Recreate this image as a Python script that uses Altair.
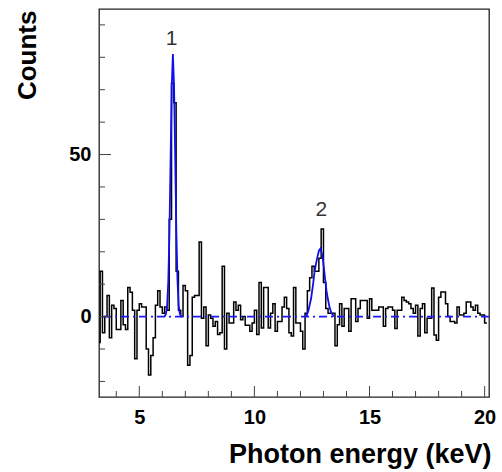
import altair as alt
import numpy as np
import pandas as pd

# Histogram: bin left edges start at 3.2 keV, width 0.1 keV
bin_start = 3.2
bin_width = 0.1
counts = [
    -8, 14, -5, 0, 6.5, -6.5, 3.5, 2.5, -4, -4,          # 3.2 - 4.1
    5, -2.5, -4, 9, 7.5, 2, -13, 2, 4, 3,                 # 4.2 - 5.1
    3, -10, -18, -12, -6.5, 3.5, 8, 3, 1, 3,              # 5.2 - 6.1
    2, 30, 72, 66, 14, 2, 0, 9.6, 8, -15,                 # 6.2 - 7.1
    -12, 6, 6.5, 6.5, 23, -0.5, 3, -9, 0.5, -0.5,         # 7.2 - 8.1
    -3, -1.5, -5.5, -5, 15.5, -10, 1, -2, -2, 4.5,        # 8.2 - 9.1
    2, 3.5, -1, 0, -2.7, -2.7, -4.5, -2, 2, -5.5,         # 9.2 - 10.1
    10.5, -3.5, 9, 9, -3.5, 1, 4, -4.5, -1.5, -1.5,       # 10.2 - 11.1
    3, 6, 2.5, -5, -6, 9, -2, -2, -4.5, -10,              # 11.2 - 12.1
    1, 8, 12, 15.5, 14, 14, 18, 27, 10.5, 2.5,            # 12.2 - 13.1
    1, 1, 1, -9, -2.5, 4, -3, 2.5, 2.5, -4.5,             # 13.2 - 14.1
    5.5, 5.5, -1.5, 2.5, 5, 5, 5, -0.5, 5.5, 2,           # 14.2 - 15.1
    2, 2, 3, 3, -3, 2.5, 3, 3, 2, -3.7,                   # 15.2 - 16.1
    2, 2, 6, 5, 4.5, 4, 2.5, 1, 3.5, -6,                  # 16.2 - 17.1
    2.5, 4, -5, -0.5, -0.5, 8.8, -5.7, -7.3, 6, 7.6,      # 17.2 - 18.1
    7.6, 4, 0, -1.5, -1.5, -2, 3, 0.5, 0.5, 1,            # 18.2 - 19.1
    4.5, 4.5, 3, 2, 3.5, 1, 0.5, 0.5, -2,                 # 19.2 - 20.0
]

# Fitted peak curves
fit1_e = [6.10, 6.16, 6.21, 6.26, 6.31, 6.36, 6.41, 6.46, 6.51, 6.56, 6.61, 6.66, 6.71, 6.76, 6.82]
fit1_c = [0, 0.9, 3.5, 11, 26, 49, 71, 81, 71, 49, 26, 11, 3.5, 0.9, 0]
fit2_e = [12.25, 12.35, 12.46, 12.55, 12.61, 12.68, 12.75, 12.81, 12.87, 12.93,
          12.97, 13.02, 13.07, 13.13, 13.19, 13.26, 13.33, 13.45]
fit2_c = [0, 2, 5.5, 10, 13.7, 16.5, 18.8, 20.5, 21, 19.5, 18, 15, 11.7, 8, 5.5, 3, 1.4, 0]

peak_labels = ["1", "2"]
peak_label_e = [6.40, 12.91]
peak_label_c = [85.5, 32.8]

x_major = [5, 10, 15, 20]
x_minor = [4, 6, 7, 8, 9, 11, 12, 13, 14, 16, 17, 18, 19]
y_major = [0, 50]
y_minor = [-20, -10, 10, 20, 30, 40, 60, 70, 80, 90]

X_DOMAIN = [3.25, 20.19]
Y_DOMAIN = [-24.8, 94.9]
W, H = 390, 388
FONT = "Liberation Sans"

edges = list(np.round(bin_start + bin_width * np.arange(len(counts) + 1), 3))
hist_df = pd.DataFrame({"e": edges, "c": counts + [counts[-1]]})
fit_df = pd.DataFrame({
    "e": fit1_e + fit2_e,
    "c": fit1_c + fit2_c,
    "peak": ["1"] * len(fit1_e) + ["2"] * len(fit2_e),
})
lab_df = pd.DataFrame({"t": peak_labels, "e": peak_label_e, "c": peak_label_c})

xs = alt.Scale(domain=X_DOMAIN, nice=False, zero=False)
ys = alt.Scale(domain=Y_DOMAIN, nice=False, zero=False)

x_axis = alt.Axis(
    values=x_major, tickSize=0, domain=False, grid=False,
    labelFont=FONT, labelFontSize=20, labelFontWeight="bold", labelColor="black",
    labelPadding=10, labelBaseline="top",
    title="Photon energy (keV)", titleFont=FONT, titleFontSize=27,
    titleFontWeight="bold", titleColor="black",
    titleAlign="right", titleAnchor="end", titleBaseline="alphabetic",
    titleX=W + 2, titleY=65,
)
y_axis = alt.Axis(
    values=y_major, tickSize=0, domain=False, grid=False,
    labelFont=FONT, labelFontSize=20, labelFontWeight="bold", labelColor="black",
    labelPadding=8,
    title="Counts", titleFont=FONT, titleFontSize=26, titleFontWeight="bold",
    titleColor="black", titleAngle=270, titleAlign="right", titleBaseline="middle",
    titleX=-72, titleY=1,
)

hist = alt.Chart(hist_df).mark_line(
    interpolate="step-after", color="black", strokeWidth=1.5, clip=True
).encode(
    x=alt.X("e:Q", scale=xs, axis=x_axis),
    y=alt.Y("c:Q", scale=ys, axis=y_axis),
)

zero_line = alt.Chart(pd.DataFrame({"c": [0]})).mark_rule(
    color="#1a1aff", strokeWidth=1.6, strokeDash=[8, 4, 2, 4]
).encode(y=alt.Y("c:Q", scale=ys))

fits = alt.Chart(fit_df).mark_line(color="#1010ee", strokeWidth=1.8, clip=True).encode(
    x=alt.X("e:Q", scale=xs), y=alt.Y("c:Q", scale=ys), detail="peak:N"
)

labels = alt.Chart(lab_df).mark_text(
    font=FONT, fontSize=21, color="#333333", baseline="middle", align="center"
).encode(x=alt.X("e:Q", scale=xs), y=alt.Y("c:Q", scale=ys), text="t:N")

tick_col = "#444444"
xmaj = alt.Chart(pd.DataFrame({"v": x_major})).mark_rule(color=tick_col, strokeWidth=1).encode(
    x=alt.X("v:Q", scale=xs), y=alt.value(H), y2=alt.value(H - 11))
xmin = alt.Chart(pd.DataFrame({"v": x_minor})).mark_rule(color=tick_col, strokeWidth=1).encode(
    x=alt.X("v:Q", scale=xs), y=alt.value(H), y2=alt.value(H - 6))
ymaj = alt.Chart(pd.DataFrame({"v": y_major})).mark_rule(color=tick_col, strokeWidth=1).encode(
    y=alt.Y("v:Q", scale=ys), x=alt.value(0), x2=alt.value(12))
ymin = alt.Chart(pd.DataFrame({"v": y_minor})).mark_rule(color=tick_col, strokeWidth=1).encode(
    y=alt.Y("v:Q", scale=ys), x=alt.value(0), x2=alt.value(6))

chart = alt.layer(hist, zero_line, fits, labels, xmaj, xmin, ymaj, ymin).properties(
    width=W, height=H,
    autosize=alt.AutoSizeParams(type="none"),
    padding={"left": 99, "top": 9, "right": 13, "bottom": 75},
    background="white",
).configure_view(stroke="#222222", strokeWidth=1.3)

chart.save("out.html", embed_options={"renderer": "svg", "actions": False})
